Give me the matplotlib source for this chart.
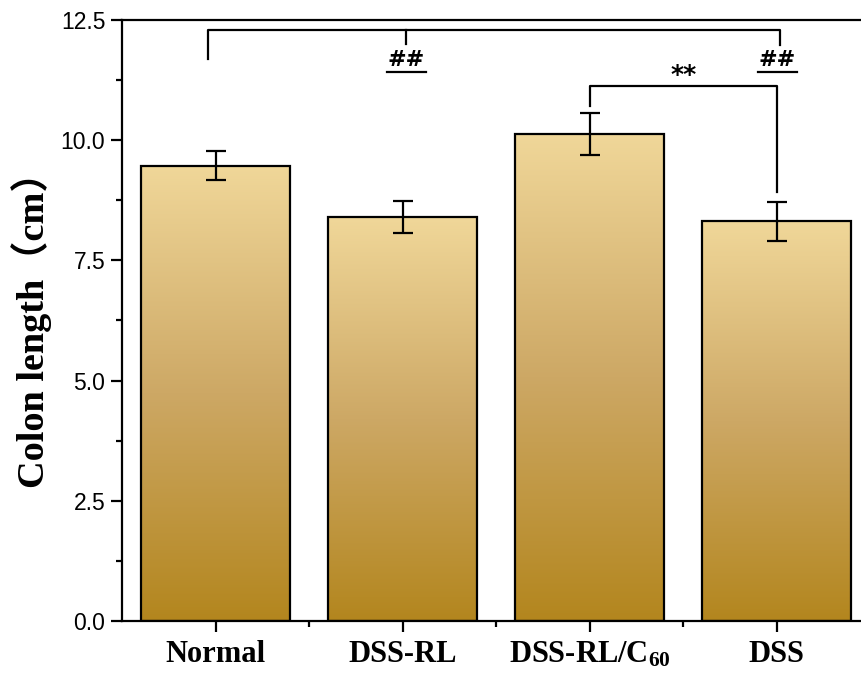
import numpy as np
import matplotlib
matplotlib.use("Agg")
import matplotlib.pyplot as plt
from matplotlib.colors import LinearSegmentedColormap
from matplotlib.ticker import MultipleLocator, FixedLocator

# Colon length per group (cm), mean and error
groups = ["Normal", "DSS-RL", r"DSS-RL/C$\mathregular{_{60}}$", "DSS"]
lengths = [9.47, 8.40, 10.13, 8.31]
errors = [0.30, 0.33, 0.43, 0.40]

# significance marks
sig_hash = "##"
sig_star = "**"

fig = plt.figure(figsize=(8.61, 6.77), dpi=100)
ax = fig.add_axes([0.1417, 0.0827, 0.8688, 0.8878])

x = np.arange(len(groups))
bars = ax.bar(x, lengths, width=0.8, color="none", edgecolor="black",
              linewidth=1.6, zorder=3)

# vertical gold gradient inside every bar
cmap = LinearSegmentedColormap.from_list("gold", ["#B3861E", "#CDA865", "#F0D799"])
grad = np.linspace(0, 1, 256).reshape(-1, 1)
for b in bars:
    x0, w, h = b.get_x(), b.get_width(), b.get_height()
    im = ax.imshow(grad, extent=(x0, x0 + w, 0, h), origin="lower",
                   cmap=cmap, aspect="auto", zorder=2)
    im.set_clip_path(b)

ax.errorbar(x, lengths, yerr=errors, fmt="none", ecolor="black",
            elinewidth=1.6, capsize=7, capthick=1.6, zorder=4)

ax.set_xlim(-0.5, 3.5)
ax.set_ylim(0, 12.5)

# brackets
lw = 1.6
ax.plot([-0.04, -0.04, 3.02, 3.02], [11.68, 12.29, 12.29, 11.98],
        color="black", lw=lw, clip_on=False, zorder=5)
ax.plot([1.02, 1.02], [12.29, 12.0], color="black", lw=lw, zorder=5)
ax.plot([2.0, 2.0, 3.0, 3.0], [10.71, 11.13, 11.13, 8.92],
        color="black", lw=lw, zorder=5)
for xc in (1.02, 3.005):
    ax.text(xc, 11.66, sig_hash, ha="center", va="center", fontsize=16,
            fontweight="bold", family="DejaVu Sans", zorder=6)
    ax.plot([xc - 0.105, xc + 0.105], [11.42, 11.42], color="black", lw=lw, zorder=5)
ax.text(2.503, 11.36, sig_star, ha="center", va="center", fontsize=18,
        fontweight="bold", family="DejaVu Sans", zorder=6)

# axes styling
for side in ("left", "bottom", "top", "right"):
    ax.spines[side].set_linewidth(1.6)

ax.yaxis.set_minor_locator(MultipleLocator(1.25))
ax.set_yticks([0, 2.5, 5.0, 7.5, 10.0, 12.5])
ax.set_yticklabels(["0.0", "2.5", "5.0", "7.5", "10.0", "12.5"],
                   family="Liberation Sans", fontsize=16.5)
ax.set_xticks(x)
ax.set_xticklabels(groups, family="Liberation Serif", fontweight="bold",
                   fontsize=22)
ax.xaxis.set_minor_locator(FixedLocator([0.5, 1.5, 2.5]))
ax.tick_params(axis="both", which="major", direction="out", length=8,
               width=1.6, top=False, right=False)
ax.tick_params(axis="both", which="minor", direction="out", length=4,
               width=1.6, top=False, right=False)
ax.tick_params(axis="x", which="major", pad=6)
ax.tick_params(axis="y", which="major", pad=4)

ax.set_ylabel("Colon length（cm）", family=["Liberation Serif", "Noto Sans CJK SC"],
              fontweight="bold", fontsize=27.5, labelpad=6)

fig.savefig("out.png", dpi=100)
